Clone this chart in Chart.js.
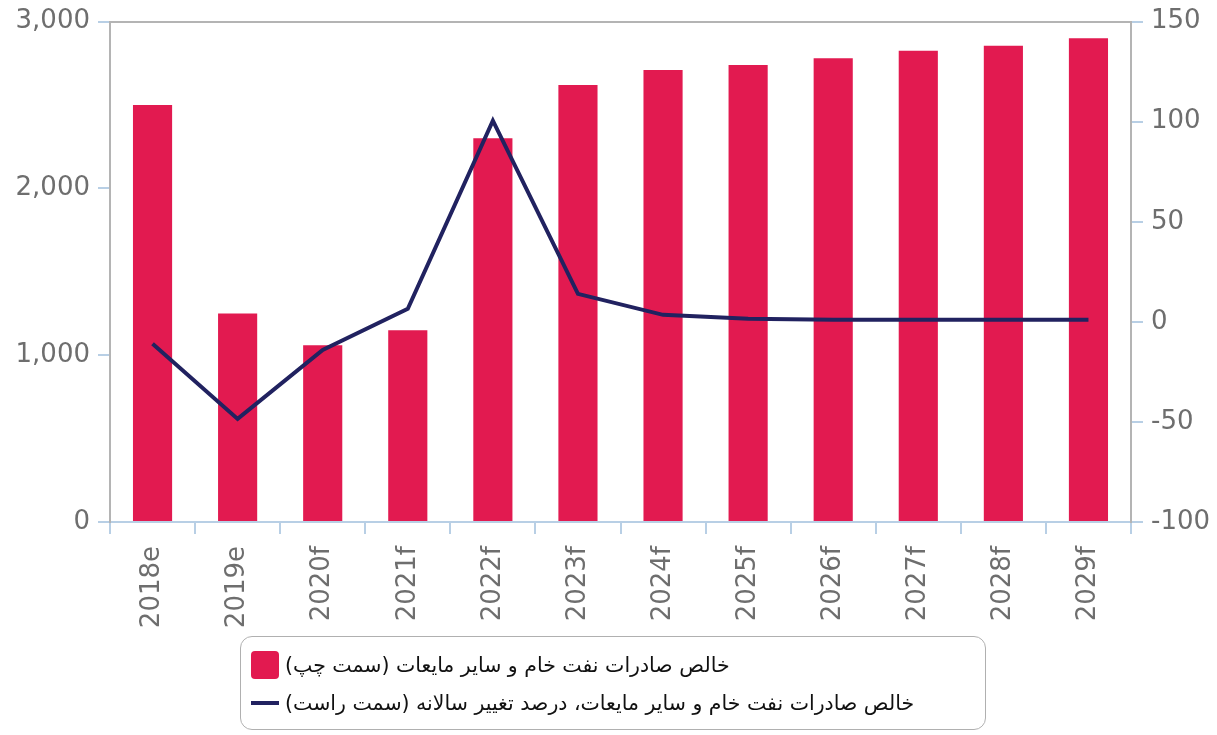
<!DOCTYPE html>
<html>
<head>
<meta charset="utf-8">
<script src="https://cdn.jsdelivr.net/npm/chart.js@4"></script>
<style>
  html, body { margin: 0; padding: 0; background: #fff; }
  #wrap { position: relative; width: 1217px; height: 735px; overflow: hidden; }
  #chart { position: absolute; left: 0; top: -2px; }
  #legend {
    position: absolute; left: 240px; top: 636px; width: 746px; height: 94px;
    border: 1.5px solid #b0b0b0; border-radius: 12px; box-sizing: border-box;
    font-family: "DejaVu Sans", sans-serif; font-size: 20.5px; color: #111;
  }
  .row { position: absolute; left: 10px; display: flex; align-items: center; }
  .row span { direction: rtl; unicode-bidi: isolate; margin-left: 6px; }
  .box { width: 28px; height: 28px; border-radius: 4px; }
  .ln { width: 28px; height: 4px; }
</style>
</head>
<body>
<div id="wrap">
  <canvas id="chart" width="1217" height="642"></canvas>
  <div id="legend"></div>
</div>
<script>
const years = ['2018e', '2019e', '2020f', '2021f', '2022f', '2023f', '2024f', '2025f', '2026f', '2027f', '2028f', '2029f'];
// خالص صادرات (محور چپ)
const exports = [2500, 1250, 1060, 1150, 2300, 2620, 2710, 2740, 2780, 2825, 2855, 2900];
// درصد تغییر سالانه (محور راست)
const change = [-11, -48.5, -14, 6.5, 100.5, 14, 3.5, 1.5, 1, 1, 1, 1];

const leftTicks = [0, 1000, 2000, 3000];
const rightTicks = [-100, -50, 0, 50, 100, 150];

const barName = 'خالص صادرات نفت خام و سایر مایعات (سمت چپ)';
const lineName = 'خالص صادرات نفت خام و سایر مایعات، درصد تغییر سالانه (سمت راست)';

const red = '#e21a50';
const navy = '#212260';
const axisBlue = '#b8cfe5';
const axisGrey = '#b4b4b4';
const tickFont = { family: 'DejaVu Sans', size: 26 };

new Chart(document.getElementById('chart'), {
  data: {
    labels: years,
    datasets: [
      {
        type: 'line',
        label: lineName,
        data: change,
        yAxisID: 'yR',
        borderColor: navy,
        borderWidth: 4,
        pointRadius: 0,
        tension: 0,
        order: 0
      },
      {
        type: 'bar',
        label: barName,
        data: exports,
        yAxisID: 'y',
        backgroundColor: red,
        barPercentage: 0.46,
        categoryPercentage: 1,
        order: 1
      }
    ]
  },
  options: {
    responsive: false,
    animation: false,
    layout: { padding: { top: 22, left: 0, right: 0, bottom: 0 } },
    plugins: { legend: { display: false }, tooltip: { enabled: false } },
    scales: {
      x: {
        position: 'bottom',
        grid: { offset: true, drawOnChartArea: false, color: axisBlue, tickLength: 12, lineWidth: 2 },
        border: { color: axisBlue, width: 2 },
        ticks: { color: '#6e6e6e', font: tickFont, minRotation: 90, maxRotation: 90, padding: 12 },
        afterFit: (s) => { s.height = 118; }
      },
      xTop: {
        type: 'category',
        position: 'top',
        labels: years,
        grid: { display: false },
        border: { color: axisGrey, width: 2 },
        ticks: { display: false },
        afterFit: (s) => { s.height = 0; }
      },
      y: {
        position: 'left',
        min: 0, max: 3000,
        afterBuildTicks: (s) => { s.ticks = leftTicks.map(v => ({ value: v })); },
        grid: { drawOnChartArea: false, color: axisBlue, tickLength: 12, lineWidth: 2 },
        border: { color: axisGrey, width: 2 },
        ticks: { color: '#6e6e6e', font: tickFont, padding: 8,
          callback: (v) => v.toLocaleString('en-US') },
        afterFit: (s) => { s.width = 110; }
      },
      yR: {
        position: 'right',
        min: -100, max: 150,
        afterBuildTicks: (s) => { s.ticks = rightTicks.map(v => ({ value: v })); },
        grid: { drawOnChartArea: false, color: axisBlue, tickLength: 12, lineWidth: 2 },
        border: { color: axisGrey, width: 2 },
        ticks: { color: '#6e6e6e', font: tickFont, padding: 8 },
        afterFit: (s) => { s.width = 86; }
      }
    }
  }
});

// legend in html so the persian text flows right-to-left
const legend = document.getElementById('legend');
legend.innerHTML =
  '<div class="row" style="top:14px"><div class="box" style="background:' + red + '"></div><span dir="rtl">' + barName + '</span></div>' +
  '<div class="row" style="top:54px"><div class="ln" style="background:' + navy + '"></div><span dir="rtl">' + lineName + '</span></div>';
</script>
</body>
</html>
